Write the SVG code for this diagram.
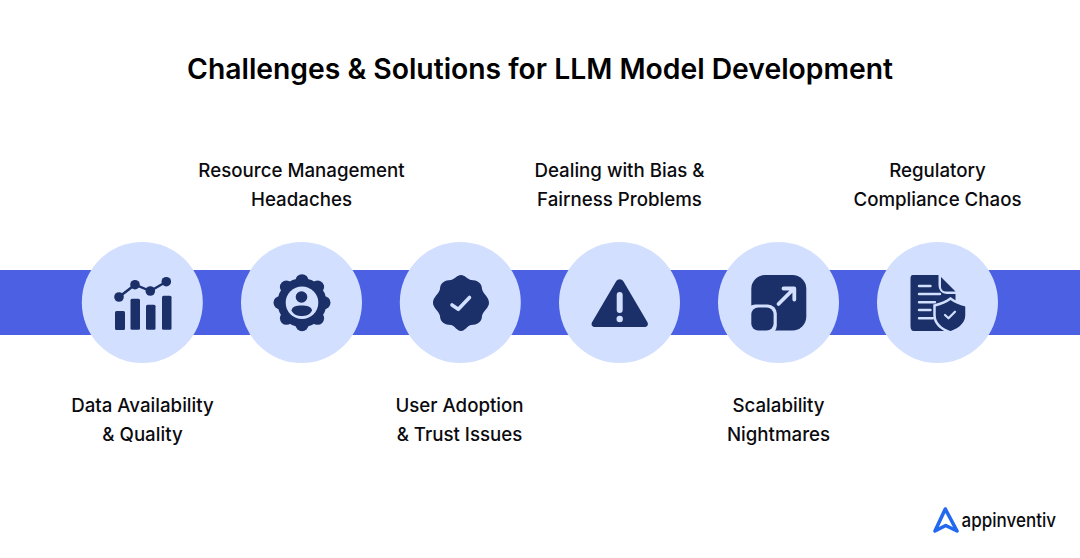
<svg xmlns="http://www.w3.org/2000/svg" width="1080" height="558" viewBox="0 0 1080 558">
<style>
.t{font-family:Inter,"Liberation Sans",sans-serif;font-weight:500;font-size:18.7px;fill:#0b0b0f;text-anchor:middle}
.c{fill:#d2dffe}.d{fill:#1b2f68}.l{fill:none;stroke:#d2dffe;stroke-linecap:round;stroke-linejoin:round}
</style>
<rect width="1080" height="558" fill="#fff"/>
<text id="title" x="540" y="79" style="font-family:Inter,'Liberation Sans',sans-serif;font-weight:600;font-size:28.3px;fill:#000;text-anchor:middle">Challenges &amp; Solutions for LLM Model Development</text>
<g id="connectors"><rect id="band" x="0" y="270" width="1080" height="65" fill="#4c60e4"/></g>
<g id="node-data">
<circle class="c" cx="142.300" cy="302.500" r="60.500"/>
<g class="d"><rect x="115" y="311" width="10" height="19" rx="1.500"/><rect x="130.500" y="298.700" width="9.500" height="31" rx="1.500"/><rect x="146" y="304.700" width="9.500" height="25" rx="1.500"/><rect x="162" y="295.700" width="9.500" height="34" rx="1.500"/>
<circle cx="119" cy="297" r="4.800"/><circle cx="135" cy="284.700" r="4.800"/><circle cx="150.300" cy="291" r="4.800"/><circle cx="166.300" cy="281.700" r="4.800"/></g>
<path d="M119 297L135 284.700L150.300 291L166.300 281.700" fill="none" stroke="#1b2f68" stroke-width="2.400"/>
<text class="t" x="142.500" y="412.300">Data Availability</text><text class="t" x="142.500" y="441.300">&amp; Quality</text>
</g>
<g id="node-resource">
<circle class="c" cx="301.500" cy="302.500" r="60.500"/>
<circle class="d" cx="302" cy="302.700" r="24.500"/>
<g class="d"><circle cx="302" cy="280.700" r="6.500"/><circle cx="317.600" cy="287.100" r="6.500"/><circle cx="324" cy="302.700" r="6.500"/><circle cx="317.600" cy="318.300" r="6.500"/><circle cx="302" cy="324.700" r="6.500"/><circle cx="286.400" cy="318.300" r="6.500"/><circle cx="280" cy="302.700" r="6.500"/><circle cx="286.400" cy="287.100" r="6.500"/></g>
<circle class="c" cx="302" cy="302.700" r="16.300"/>
<circle class="d" cx="301.500" cy="297" r="5.800"/>
<path class="d" d="M291.500 310.500C292 306.500 296 305.500 301.700 305.500C307 305.500 311.500 306.500 312 310.500C310 315 305.500 316 301.700 316C298 316 293.500 315 291.500 310.500Z"/>
<text class="t" x="301.500" y="177.300">Resource Management</text><text class="t" x="301.500" y="206.300">Headaches</text>
</g>
<g id="node-adoption">
<circle class="c" cx="460.300" cy="302.500" r="60.500"/>
<path class="d" d="M461 275C465 275 467 279 471 280C477 280 482 283 482 289C483 294 489 297 489 302.700C489 308 483 311 482 316C482 322 477 325 471 325C467 326 465 331 461 331C457 331 455 326 451 325C445 325 440 322 440 316C439 311 433 308 433 302.700C433 297 439 294 440 289C440 283 445 280 451 280C455 279 457 275 461 275Z"/>
<path class="l" stroke-width="3.600" d="M452 305L458.300 309.300L469.500 297.500"/>
<text class="t" x="459.500" y="412.300">User Adoption</text><text class="t" x="459.500" y="441.300">&amp; Trust Issues</text>
</g>
<g id="node-bias">
<circle class="c" cx="619.500" cy="302.500" r="60.500"/>
<path class="d" d="M616 281.500C618 278.500 621.500 278.500 623.500 281.500L647 321.500C649 324.500 647.500 327 644.500 327H595C592 327 590.500 324.500 592.500 321.500Z"/>
<rect class="c" x="616.700" y="292" width="6" height="21" rx="3"/><circle class="c" cx="619.700" cy="319" r="3.200"/>
<text class="t" x="619.500" y="177.300">Dealing with Bias &amp;</text><text class="t" x="619.500" y="206.300">Fairness Problems</text>
</g>
<g id="node-scale">
<circle class="c" cx="778.500" cy="302.500" r="60.500"/>
<rect class="d" x="751.300" y="275" width="55" height="55.500" rx="14"/>
<rect class="c" x="746" y="304.500" width="30.800" height="30" rx="9"/>
<rect class="d" x="751.300" y="307.500" width="22.300" height="23" rx="7"/>
<path class="l" stroke-width="3.800" d="M778.500 304L793 289.500M783.500 288.500H794.300V299.500"/>
<text class="t" x="778.500" y="412.300">Scalability</text><text class="t" x="778.500" y="441.300">Nightmares</text>
</g>
<g id="node-compliance">
<circle class="c" cx="937.500" cy="302.500" r="60.500"/>
<path class="d" d="M913 275H938.500V285C938.500 290 942 294 947 294H955.500V326C955.500 329 953 331 950 331H914C911.500 331 910.500 329 910.500 326V279C910.500 276.500 911 275 913 275Z"/>
<path class="d" d="M941 277L955.500 291.500H946C943 291.500 941 289.500 941 287Z"/>
<path class="l" stroke-width="2.400" d="M919 286H930.500M919 294H940M919 302.300H935M919 310H930.500M919 318.300H933"/>
<path class="d" stroke="#d2dffe" stroke-width="2.500" d="M950.500 298.500C955 302 961 304 966.500 305.500V315C966.500 323 960 329 950.500 332.500C941 329 934.500 323 934.500 315V305.500C940 304 946 302 950.500 298.500Z"/>
<path class="l" stroke-width="2.200" d="M945 315L948.500 318.300L955 311.700"/>
<text class="t" x="937.500" y="177.300">Regulatory</text><text class="t" x="937.500" y="206.300">Compliance Chaos</text>
</g>
<g id="logo">
<path d="M945.300 509L957 531L945.700 525.500L935 531Z" fill="none" stroke="#2269f0" stroke-width="3.600" stroke-linejoin="round"/>
<text x="961.500" y="526.500" textLength="94.500" lengthAdjust="spacingAndGlyphs" style="font-family:Inter,'Liberation Sans',sans-serif;font-weight:500;font-size:19px;fill:#0b0b0f">appinventiv</text>
</g>
</svg>
